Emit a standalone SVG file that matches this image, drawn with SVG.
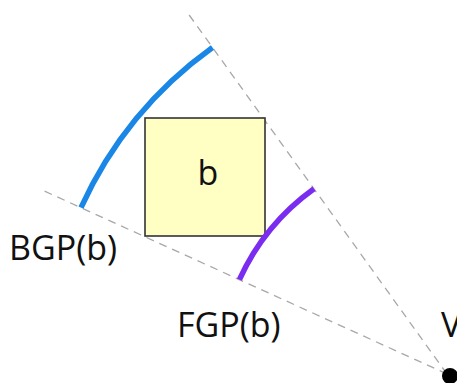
<svg xmlns="http://www.w3.org/2000/svg" width="457" height="383" viewBox="0 0 457 383">
<style>
.dash{stroke:#a8a8a8;stroke-width:1.3;stroke-dasharray:8 6;fill:none}
.lbl{font-family:"Open Sans","Noto Sans",sans-serif;font-size:34px;fill:#111}
</style>
<rect width="457" height="383" fill="#fff"/>
<g id="connectors">
<line class="dash" x1="447" y1="374" x2="42" y2="190"/>
<line class="dash" x1="447" y1="374" x2="187" y2="12"/>
</g>
<g id="box">
<rect x="145" y="118" width="120" height="118" fill="#ffffc4" stroke="#333" stroke-width="1.6"/>
<text class="lbl" x="208" y="185" text-anchor="middle">b</text>
</g>
<g id="bgp">
<path d="M81,207.7 A402,402 0 0 1 212.5,47.5" fill="none" stroke="#1a86e6" stroke-width="5.5"/>
<text class="lbl" x="9" y="260">BGP(b)</text>
</g>
<g id="fgp">
<path d="M239.4,279.7 A228,228 0 0 1 314,188.8" fill="none" stroke="#7a2cf0" stroke-width="5.5"/>
<text class="lbl" x="177" y="337">FGP(b)</text>
</g>
<g id="viewpoint">
<circle cx="450" cy="376" r="8" fill="#000"/>
<text class="lbl" x="441" y="337">V</text>
</g>
</svg>
